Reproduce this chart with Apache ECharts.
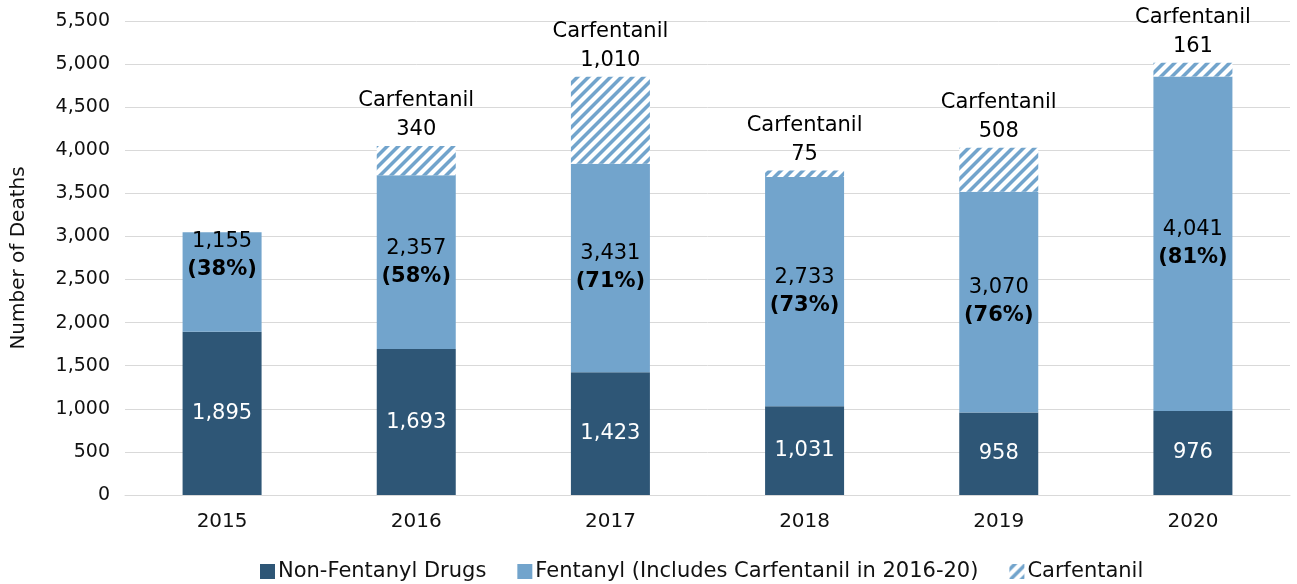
<!DOCTYPE html>
<html>
<head>
<meta charset="utf-8">
<script src="https://cdn.jsdelivr.net/npm/echarts@6/dist/echarts.min.js"></script>
<style>
  html, body { margin: 0; padding: 0; background: #fff; }
  #chart { width: 1297px; height: 584px; }
</style>
</head>
<body>
<div id="chart"></div>
<script>
const years = ['2015', '2016', '2017', '2018', '2019', '2020'];
const nonFentanyl = [1895, 1693, 1423, 1031, 958, 976];
const fentanyl = [1155, 2357, 3431, 2733, 3070, 4041]; // includes carfentanil
const carfentanil = [0, 340, 1010, 75, 508, 161];
const fentanylPct = ['38%', '58%', '71%', '73%', '76%', '81%'];
const yTicks = [0, 500, 1000, 1500, 2000, 2500, 3000, 3500, 4000, 4500, 5000, 5500];

const darkBlue = '#2E5676';
const lightBlue = '#72A4CC';
const fontFamily = 'DejaVu Sans, sans-serif';

// hatched fill for carfentanil
function makeHatch() {
  const s = 11;
  const c = document.createElement('canvas');
  c.width = s; c.height = s;
  const ctx = c.getContext('2d');
  ctx.fillStyle = lightBlue;
  ctx.fillRect(0, 0, s, s);
  ctx.strokeStyle = '#ffffff';
  ctx.lineWidth = 4.2;
  [[0, s, s, 0], [-s / 2, s / 2, s / 2, -s / 2], [s / 2, s * 1.5, s * 1.5, s / 2]].forEach(l => {
    ctx.beginPath();
    ctx.moveTo(l[0], l[1]);
    ctx.lineTo(l[2], l[3]);
    ctx.stroke();
  });
  return c;
}
const hatch = { image: makeHatch(), repeat: 'repeat' };

const fmt = v => v.toLocaleString('en-US');

const fentanylOnly = fentanyl.map((v, i) => v - carfentanil[i]);

const myChart = echarts.init(document.getElementById('chart'));
const option = {
  textStyle: { fontFamily: fontFamily },
  grid: { left: 125, right: 7, top: 21, bottom: 89, outerBoundsMode: 'none' },
  legend: {
    top: 556,
    left: 255,
    itemWidth: 15,
    itemHeight: 15,
    itemGap: 31,
    icon: 'rect',
    data: ['Non-Fentanyl Drugs', 'Fentanyl (Includes Carfentanil in 2016-20)', 'Carfentanil'],
    textStyle: { fontSize: 21, color: '#111', fontFamily: fontFamily, padding: [0, 0, 0, -2] }
  },
  xAxis: {
    type: 'category',
    data: years,
    axisTick: { show: false },
    axisLine: { lineStyle: { color: '#d9d9d9' } },
    axisLabel: { fontSize: 20, color: '#111', margin: 17, fontFamily: fontFamily }
  },
  yAxis: {
    type: 'value',
    min: 0,
    max: yTicks[yTicks.length - 1],
    interval: 500,
    name: 'Number of Deaths',
    nameLocation: 'middle',
    nameGap: 96,
    nameTextStyle: { fontSize: 20, color: '#111', fontFamily: fontFamily },
    axisLabel: { fontSize: 19, color: '#111', margin: 15, fontFamily: fontFamily, formatter: v => fmt(v) },
    splitLine: { lineStyle: { color: '#d9d9d9' } }
  },
  series: [
    {
      name: 'Non-Fentanyl Drugs',
      type: 'bar',
      stack: 'total',
      barWidth: 79,
      data: nonFentanyl,
      itemStyle: { color: darkBlue },
      label: {
        show: true,
        position: 'inside',
        color: '#fff',
        fontSize: 21,
        fontFamily: fontFamily,
        formatter: p => fmt(p.value)
      }
    },
    {
      name: 'Fentanyl (Includes Carfentanil in 2016-20)',
      type: 'bar',
      stack: 'total',
      data: fentanylOnly.map((v, i) => i === 0 ? { value: v, label: { offset: [0, -26] } } : v),
      itemStyle: { color: lightBlue },
      label: {
        show: true,
        position: 'inside',
        color: '#000',
        fontSize: 21,
        lineHeight: 28,
        fontFamily: fontFamily,
        formatter: p => fmt(fentanyl[p.dataIndex]) + '\n{b|(' + fentanylPct[p.dataIndex] + ')}',
        rich: { b: { fontWeight: 'bold', fontSize: 21, color: '#000', lineHeight: 28, fontFamily: fontFamily } }
      }
    },
    {
      name: 'Carfentanil',
      type: 'bar',
      stack: 'total',
      data: carfentanil,
      itemStyle: { color: hatch },
      label: {
        show: true,
        position: 'top',
        distance: 2,
        color: '#000',
        fontSize: 21,
        lineHeight: 29,
        fontFamily: fontFamily,
        formatter: p => p.value > 0 ? 'Carfentanil\n' + fmt(p.value) : ''
      }
    }
  ]
};
myChart.setOption(option);
</script>
</body>
</html>
